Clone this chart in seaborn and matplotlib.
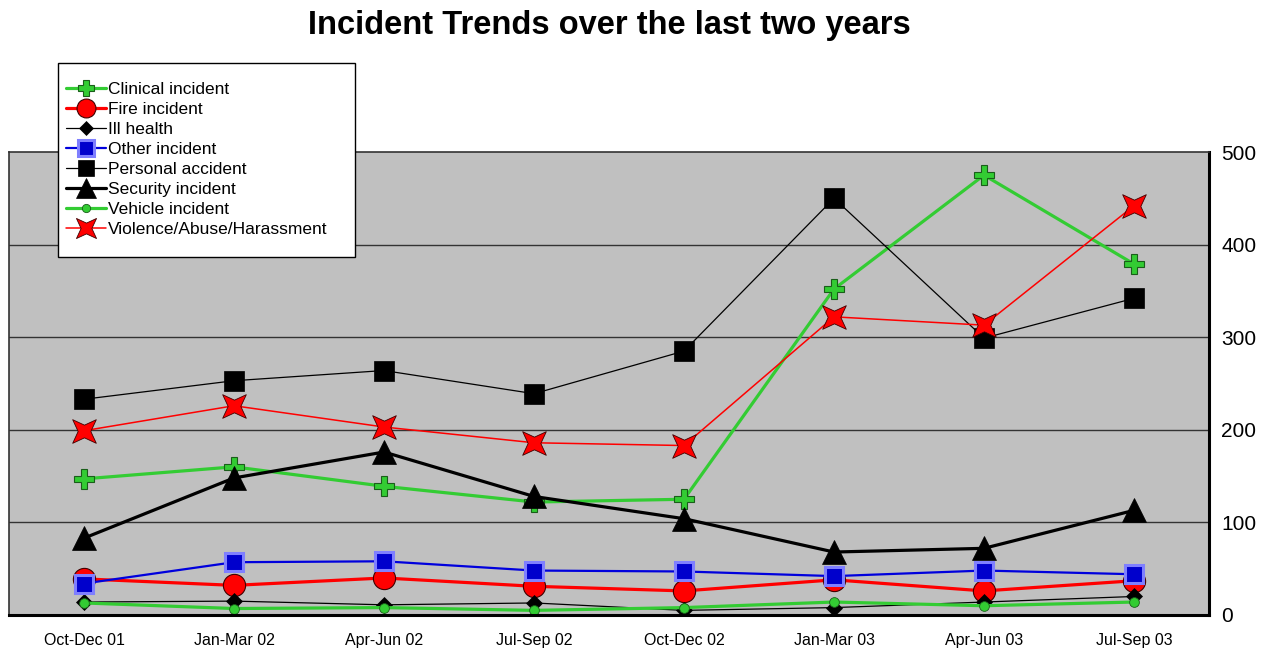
import numpy as np
import pandas as pd
import seaborn as sns
import matplotlib.pyplot as plt
from matplotlib.path import Path
from matplotlib.patches import Rectangle

# Quarterly incident counts
quarters = ['Oct-Dec 01', 'Jan-Mar 02', 'Apr-Jun 02', 'Jul-Sep 02',
            'Oct-Dec 02', 'Jan-Mar 03', 'Apr-Jun 03', 'Jul-Sep 03']
clinical = [147, 160, 139, 122, 125, 352, 475, 379]
fire = [39, 32, 40, 31, 26, 38, 26, 37]
ill_health = [14, 15, 11, 13, 5, 8, 14, 20]
other = [34, 57, 58, 48, 47, 42, 48, 44]
personal = [233, 253, 264, 239, 285, 450, 299, 342]
security = [83, 148, 176, 128, 104, 68, 72, 113]
vehicle = [13, 7, 8, 5, 8, 14, 10, 14]
violence = [199, 226, 203, 186, 183, 322, 313, 442]
y_ticks = [0, 100, 200, 300, 400, 500]

# four pointed star for the violence series
star = Path.unit_regular_star(4, innerCircle=0.38)
star = Path(star.vertices @ np.array([[np.cos(np.pi/4), -np.sin(np.pi/4)],
                                      [np.sin(np.pi/4), np.cos(np.pi/4)]]),
            star.codes)

series = [
    ('Clinical incident', clinical, dict(color='#33CC33', lw=2.3, marker='P', ms=14, mfc='#33CC33', mec='#1a5e1a', mew=0.8)),
    ('Fire incident', fire, dict(color='red', lw=2.3, marker='o', ms=16, mfc='red', mec='#400000', mew=0.8)),
    ('Ill health', ill_health, dict(color='black', lw=0.9, marker='D', ms=8, mfc='black', mec='black', mew=0.5)),
    ('Other incident', other, dict(color='#0000DD', lw=1.6, marker='s', ms=13, mfc='#0000CC', mec='#7f7fff', mew=2.2)),
    ('Personal accident', personal, dict(color='black', lw=0.9, marker='s', ms=14, mfc='black', mec='black', mew=0.5)),
    ('Security incident', security, dict(color='black', lw=2.3, marker='^', ms=17, mfc='black', mec='black', mew=0.5)),
    ('Vehicle incident', vehicle, dict(color='#33CC33', lw=2.3, marker='o', ms=7, mfc='#33CC33', mec='#1a5e1a', mew=0.6)),
    ('Violence/Abuse/Harassment', violence, dict(color='red', lw=1.1, marker=star, ms=17, mfc='red', mec='#400000', mew=0.6)),
]

sns.set_style('white')
plt.rcParams['font.family'] = ['Liberation Sans', 'DejaVu Sans']
plt.rcParams['text.color'] = 'black'
plt.rcParams['xtick.color'] = 'black'
plt.rcParams['ytick.color'] = 'black'

fig = plt.figure(figsize=(12.72, 6.52), dpi=100)
ax = fig.add_axes([9/1272, 1 - 615/652, 1200/1272, 463/652])
ax.set_facecolor('#C0C0C0')

for name, vals, style in series:
    sns.lineplot(x=quarters, y=vals, ax=ax, label=name, sort=False, **style)

ax.set_xlim(-0.5, 7.5)
ax.set_ylim(0, 500)
ax.set_yticks(y_ticks)
ax.yaxis.tick_right()
ax.tick_params(axis='y', length=0, pad=9, labelsize=15, labelcolor='black')
ax.tick_params(axis='x', length=0, pad=13, labelsize=11.5, labelcolor='black')
for y in y_ticks[1:-1]:
    ax.axhline(y, color='#333333', lw=1, zorder=0.5)

for side in ['top', 'left']:
    ax.spines[side].set_color('#333333')
    ax.spines[side].set_linewidth(1.2)
for side in ['right', 'bottom']:
    ax.spines[side].set_color('black')
    ax.spines[side].set_linewidth(2.2)
ax.set_xlabel('')
ax.set_ylabel('')

fig.suptitle('Incident Trends over the last two years', x=609/1272, y=1 - 10/652,
             va='top', fontsize=23.5, fontweight='bold', color='black')

# legend: frame drawn as its own box, entries placed inside it
handles, labels = ax.get_legend_handles_labels()
if ax.get_legend() is not None:
    ax.get_legend().remove()
fig.patches.append(Rectangle((58/1272, 1 - 257/652), 297/1272, 194/652,
                             transform=fig.transFigure, facecolor='white',
                             edgecolor='black', lw=1, zorder=4))
leg = fig.legend(handles, labels, loc='upper left',
                 bbox_to_anchor=(66/1272, 1 - 82/652),
                 bbox_transform=fig.transFigure, fontsize=12.5, frameon=False,
                 handlelength=2.3, handletextpad=0.1, labelspacing=0.28,
                 borderpad=0, borderaxespad=0)
leg.set_zorder(5)
for h in leg.legend_handles:
    h.set_markersize(h.get_markersize() * 0.85)

fig.savefig('out.png', dpi=100)
